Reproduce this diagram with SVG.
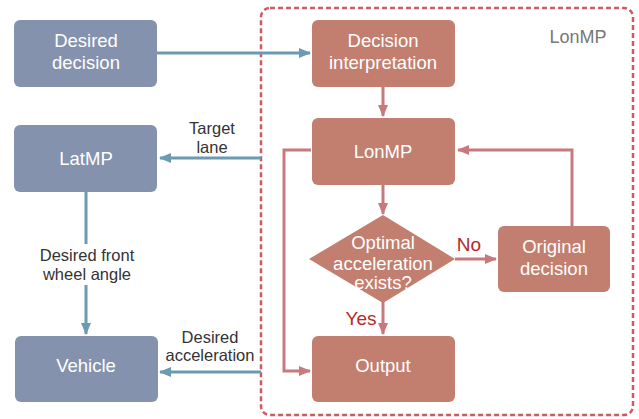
<svg xmlns="http://www.w3.org/2000/svg" width="639" height="419" viewBox="0 0 639 419">
<style>
.blue{fill:#8592AE}
.red{fill:#C27E6E}
.wt{fill:#FFFFFF;font-family:"Liberation Sans",Arial,sans-serif;font-size:18.5px;text-anchor:middle}
.lbl{fill:#333333;font-family:"Liberation Sans",Arial,sans-serif;font-size:16.5px;text-anchor:middle}
.yn{fill:#B22A2A;font-family:"Liberation Sans",Arial,sans-serif;font-size:19px;text-anchor:middle}
.bl{stroke:#6D9AB3;stroke-width:3;fill:none}
.rl{stroke:#C9787D;stroke-width:3;fill:none}
</style>
<defs>
<marker id="ab" markerWidth="12" markerHeight="10" refX="11" refY="5" orient="auto" markerUnits="userSpaceOnUse"><path d="M0,0 L12,5 L0,10 Z" fill="#6D9AB3"/></marker>
<marker id="ar" markerWidth="12" markerHeight="10" refX="11" refY="5" orient="auto" markerUnits="userSpaceOnUse"><path d="M0,0 L12,5 L0,10 Z" fill="#C9787D"/></marker>
</defs>
<rect width="639" height="419" fill="#FFFFFF"/>
<g id="lonmp-frame">
<rect x="261" y="8" width="372" height="407" rx="9" fill="none" stroke="#D2595F" stroke-width="2.5" stroke-dasharray="5,3"/>
<text x="578" y="43" style="fill:#777777;font-family:'Liberation Sans',Arial,sans-serif;font-size:18px" text-anchor="middle">LonMP</text>
</g>
<g id="connectors">
<line class="bl" x1="157" y1="53" x2="310" y2="53" marker-end="url(#ab)"/>
<line class="bl" x1="261" y1="158" x2="160" y2="158" marker-end="url(#ab)"/>
<line class="bl" x1="86" y1="192" x2="86" y2="244"/>
<line class="bl" x1="86" y1="285" x2="86" y2="334" marker-end="url(#ab)"/>
<line class="bl" x1="261" y1="372" x2="160" y2="372" marker-end="url(#ab)"/>
<line class="rl" x1="383" y1="87" x2="383" y2="116" marker-end="url(#ar)"/>
<line class="rl" x1="383" y1="185" x2="383" y2="214" marker-end="url(#ar)"/>
<line class="rl" x1="383" y1="302" x2="383" y2="334" marker-end="url(#ar)"/>
<line class="rl" x1="455" y1="259" x2="496" y2="259" marker-end="url(#ar)"/>
<polyline class="rl" points="572,226 572,150 458,150" marker-end="url(#ar)"/>
<polyline class="rl" points="311,150 284,150 284,371 310,371" marker-end="url(#ar)"/>
<text class="lbl" x="212" y="134">Target</text>
<text class="lbl" x="212" y="152.5">lane</text>
<text class="lbl" x="87" y="261">Desired front</text>
<text class="lbl" x="87" y="279.5">wheel angle</text>
<text class="lbl" x="210" y="342.5">Desired</text>
<text class="lbl" x="210" y="361">acceleration</text>
<text class="yn" x="469" y="251">No</text>
<text class="yn" x="361" y="325">Yes</text>
</g>
<g id="desired-decision">
<rect class="blue" x="14" y="20" width="143" height="67" rx="6"/>
<text class="wt" x="86" y="47">Desired</text>
<text class="wt" x="86" y="69">decision</text>
</g>
<g id="latmp">
<rect class="blue" x="14" y="125" width="143" height="67" rx="6"/>
<text class="wt" x="86" y="165">LatMP</text>
</g>
<g id="vehicle">
<rect class="blue" x="15" y="336" width="143" height="66" rx="6"/>
<text class="wt" x="86" y="372">Vehicle</text>
</g>
<g id="decision-interpretation">
<rect class="red" x="312" y="20" width="143" height="67" rx="6"/>
<text class="wt" x="383" y="47">Decision</text>
<text class="wt" x="383" y="69">interpretation</text>
</g>
<g id="lonmp">
<rect class="red" x="312" y="118" width="143" height="67" rx="6"/>
<text class="wt" x="383" y="158">LonMP</text>
</g>
<g id="optimal">
<polygon class="red" points="383,215 455,259 383,303 309,259"/>
<text class="wt" x="383" y="249">Optimal</text>
<text class="wt" x="383" y="270">acceleration</text>
<text class="wt" x="383" y="289">exists?</text>
</g>
<g id="original-decision">
<rect class="red" x="498" y="226" width="112" height="66" rx="6"/>
<text class="wt" x="554" y="253">Original</text>
<text class="wt" x="554" y="275">decision</text>
</g>
<g id="output">
<rect class="red" x="312" y="336" width="143" height="66" rx="6"/>
<text class="wt" x="383" y="372">Output</text>
</g>
</svg>
